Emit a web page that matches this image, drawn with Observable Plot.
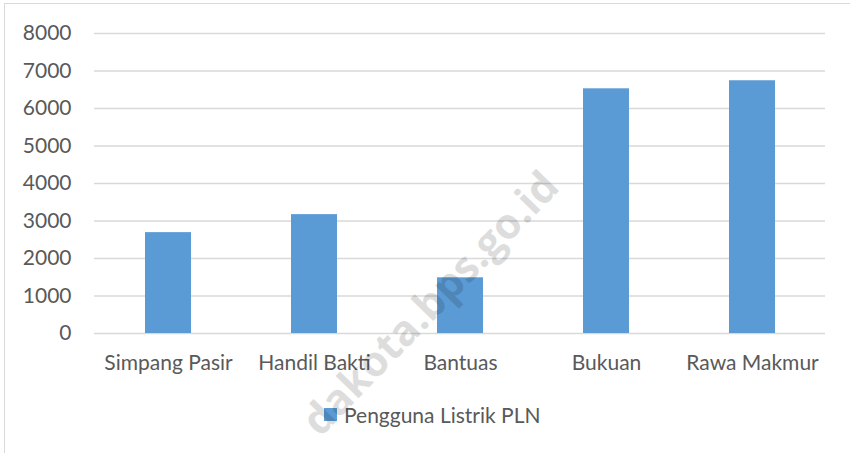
<!DOCTYPE html>
<html>
<head>
<meta charset="utf-8">
<script src="https://cdn.jsdelivr.net/npm/d3@7"></script>
<script src="https://cdn.jsdelivr.net/npm/@observablehq/plot@0.6"></script>
<style>
  html, body { margin: 0; padding: 0; background: #fff; }
  #wrap { position: relative; width: 850px; height: 453px; overflow: hidden; font-family: Lato, "Open Sans", sans-serif; }
  #frame { position: absolute; left: 4px; top: 3px; width: 860px; height: 470px; border-left: 1.5px solid #d9d9d9; border-top: 1.5px solid #d9d9d9; pointer-events: none; }
  #chart { position: absolute; left: 0; top: 0; }
  #legend { position: absolute; left: 324px; top: 402px; display: flex; align-items: center; color: #595959; font-size: 21px; white-space: nowrap; }
  #legend .sw { width: 13px; height: 13px; background: #5b9bd5; margin-right: 7px; }
  #wm { position: absolute; left: 0; top: 0; font-family: "Open Sans", sans-serif; font-weight: 700; font-size: 42px; line-height: 1; color: #000; opacity: 0.13; white-space: nowrap; transform-origin: 100% 100%; pointer-events: none; }
</style>
</head>
<body>
<div id="wrap">
  <div id="chart"></div>
  <div id="frame"></div>
  <div id="legend"><div class="sw"></div><span id="legtext"></span></div>
  <div id="wm"></div>
</div>
<script>
const categories = ["Simpang Pasir", "Handil Bakti", "Bantuas", "Bukuan", "Rawa Makmur"];
const values = [2690, 3170, 1485, 6525, 6740];
const yTicks = [0, 1000, 2000, 3000, 4000, 5000, 6000, 7000, 8000];
const seriesName = "Pengguna Listrik PLN";
const watermark = "dakota.bps.go.id";

const data = categories.map((c, i) => ({category: c, value: values[i]}));

const chart = Plot.plot({
  width: 850,
  height: 385,
  marginTop: 33,
  marginBottom: 52,
  marginLeft: 94,
  marginRight: 25,
  style: {fontFamily: "Lato, 'Open Sans', sans-serif", fontSize: "21px", color: "#595959", background: "transparent"},
  x: {domain: categories, paddingInner: 0.685, paddingOuter: 0.3425, label: null},
  y: {domain: [0, 8000], label: null},
  marks: [
    Plot.ruleY(yTicks, {stroke: "#d9d9d9", strokeWidth: 1.5}),
    Plot.barY(data, {x: "category", y: "value", fill: "#5b9bd5"}),
    Plot.axisY({ticks: yTicks, tickSize: 0, tickPadding: 23, label: null, tickFormat: d => String(d), fill: "#595959"}),
    Plot.axisX({tickSize: 0, tickPadding: 22, label: null, fill: "#595959"})
  ]
});
document.getElementById("chart").appendChild(chart);
document.getElementById("legtext").textContent = seriesName;

const wm = document.getElementById("wm");
wm.textContent = watermark;
const w = wm.getBoundingClientRect().width;
const h = wm.getBoundingClientRect().height;
wm.style.left = (565 - w) + "px";
wm.style.top = (192 - h) + "px";
wm.style.transform = "rotate(-46deg)";
</script>
</body>
</html>
